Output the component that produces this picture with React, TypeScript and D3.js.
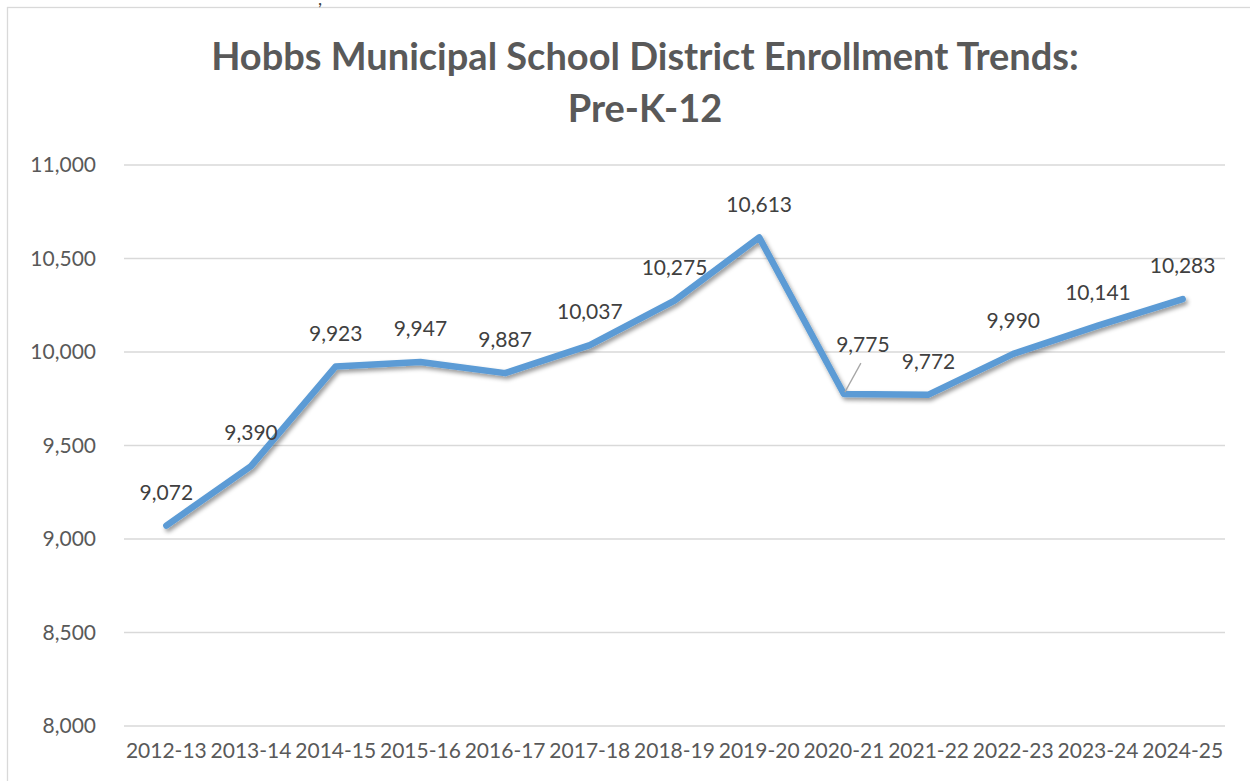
import { useMemo } from "react";
import * as d3 from "d3";

const years = [
  "2012-13", "2013-14", "2014-15", "2015-16", "2016-17", "2017-18", "2018-19",
  "2019-20", "2020-21", "2021-22", "2022-23", "2023-24", "2024-25",
];
const enrollment = [
  9072, 9390, 9923, 9947, 9887, 10037, 10275, 10613, 9775, 9772, 9990, 10141, 10283,
];
const yTicks = [8000, 8500, 9000, 9500, 10000, 10500, 11000];
const titleLines = ["Hobbs Municipal School District Enrollment Trends:", "Pre-K-12"];

const W = 1250;
const H = 781;
const plot = { left: 124, right: 1225, top: 165, bottom: 726 };
const font = "Lato, 'Open Sans', sans-serif";
const fmt = d3.format(",");
// the 2020-21 label was dragged off its point in the original, with a leader line
const movedLabel = 8;

export default function App() {
  const x = useMemo(
    () => d3.scaleBand().domain(years).range([plot.left, plot.right]).padding(0),
    []
  );
  const y = useMemo(
    () => d3.scaleLinear().domain([8000, 11000]).range([plot.bottom, plot.top]),
    []
  );
  const cx = (yr: string) => (x(yr) ?? 0) + x.bandwidth() / 2;
  const line = d3
    .line<number>()
    .x((_, i) => cx(years[i]))
    .y((d) => y(d));

  return (
    <svg
      width={W}
      height={H}
      style={{ position: "absolute", left: 0, top: 0, background: "#fff" }}
      fontFamily={font}
    >
      <defs>
        <filter id="shadow" x="-10%" y="-10%" width="120%" height="130%">
          <feDropShadow dx="2" dy="3" stdDeviation="2" floodColor="#000" floodOpacity="0.4" />
        </filter>
      </defs>
      <rect x={7.5} y={7.5} width={W + 20} height={H + 20} fill="#fff" stroke="#d9d9d9" strokeWidth={1.3} />
      <text x={318} y={5} fontSize={18} fill="#404040">,</text>

      {titleLines.map((t, i) => (
        <text
          key={t}
          x={645}
          y={70 + i * 52}
          textAnchor="middle"
          fontSize={38}
          fontWeight="bold"
          fill="#595959"
        >
          {t}
        </text>
      ))}

      {yTicks.map((t) => (
        <g key={t}>
          <line x1={plot.left} x2={plot.right} y1={y(t)} y2={y(t)} stroke="#d9d9d9" strokeWidth={1.3} />
          <text x={96} y={y(t)} dy="0.35em" textAnchor="end" fontSize={21} fill="#595959">
            {fmt(t)}
          </text>
        </g>
      ))}

      {years.map((yr) => (
        <text key={yr} x={cx(yr)} y={758} textAnchor="middle" fontSize={21} fill="#595959">
          {yr}
        </text>
      ))}

      <path
        d={line(enrollment) ?? ""}
        fill="none"
        stroke="#5b9bd5"
        strokeWidth={6.5}
        strokeLinejoin="round"
        strokeLinecap="round"
        filter="url(#shadow)"
      />

      {enrollment.map((v, i) => {
        const px = cx(years[i]);
        const py = y(v);
        if (i === movedLabel) {
          return (
            <g key={i}>
              <line x1={px + 1} y1={py - 2} x2={px + 17} y2={py - 31} stroke="#a6a6a6" strokeWidth={1.3} />
              <text x={px + 19} y={py - 49} dy="0.35em" textAnchor="middle" fontSize={21} fill="#404040">
                {fmt(v)}
              </text>
            </g>
          );
        }
        return (
          <text key={i} x={px} y={py - 33} dy="0.35em" textAnchor="middle" fontSize={21} fill="#404040">
            {fmt(v)}
          </text>
        );
      })}
    </svg>
  );
}
